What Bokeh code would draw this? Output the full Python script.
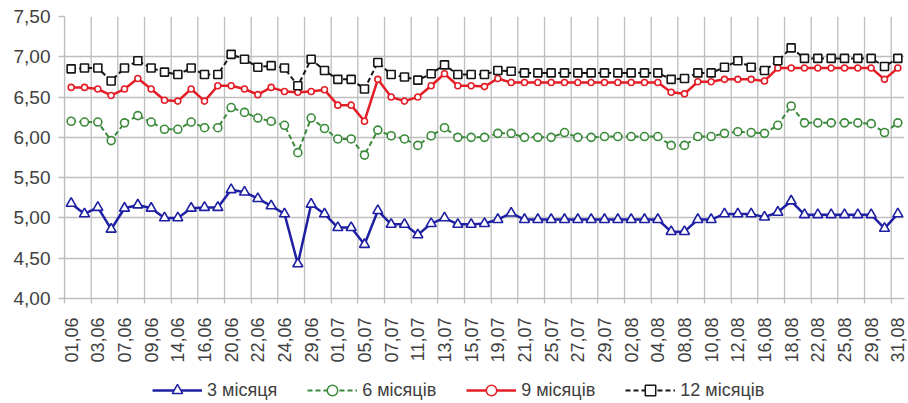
import math
from bokeh.plotting import figure
from bokeh.layouts import column
from bokeh.models import (Range1d, FixedTicker, CustomJSTickFormatter, Legend, LegendItem,
                          ColumnDataSource)
from bokeh.embed import file_html
from bokeh.resources import INLINE

dates = ["01,06", "02,06", "03,06", "06,06", "07,06", "08,06", "09,06", "10,06",
         "14,06", "15,06", "16,06", "17,06", "20,06", "21,06", "22,06", "23,06",
         "24,06", "27,06", "29,06", "30,06", "01,07", "04,07", "05,07", "06,07",
         "07,07", "08,07", "11,07", "12,07", "13,07", "14,07", "15,07", "18,07",
         "19,07", "20,07", "21,07", "22,07", "25,07", "26,07", "27,07", "28,07",
         "29,07", "01,08", "02,08", "03,08", "04,08", "05,08", "08,08", "09,08",
         "10,08", "11,08", "12,08", "15,08", "16,08", "17,08", "18,08", "19,08",
         "22,08", "23,08", "25,08", "26,08", "29,08", "30,08", "31,08"]

m3 = [5.18, 5.05, 5.13, 4.86, 5.12, 5.16, 5.12, 5.00, 5.00, 5.12, 5.13, 5.13,
      5.35, 5.32, 5.24, 5.15, 5.05, 4.43, 5.17, 5.05, 4.88, 4.88, 4.67, 5.09,
      4.92, 4.92, 4.79, 4.93, 5.00, 4.92, 4.92, 4.93, 4.98, 5.06, 4.98, 4.98,
      4.98, 4.98, 4.98, 4.98, 4.98, 4.98, 4.98, 4.98, 4.98, 4.83, 4.83, 4.98,
      4.98, 5.05, 5.05, 5.05, 5.01, 5.07, 5.21, 5.04, 5.04, 5.04, 5.04, 5.04,
      5.04, 4.87, 5.05]

m6 = [6.20, 6.19, 6.19, 5.96, 6.18, 6.27, 6.19, 6.10, 6.10, 6.19, 6.12, 6.12,
      6.37, 6.31, 6.24, 6.20, 6.15, 5.81, 6.24, 6.11, 5.98, 5.98, 5.78, 6.09,
      6.02, 5.98, 5.90, 6.02, 6.12, 6.00, 6.00, 6.00, 6.05, 6.05, 6.00, 6.00,
      6.00, 6.06, 6.00, 6.00, 6.01, 6.01, 6.01, 6.01, 6.01, 5.90, 5.90, 6.01,
      6.01, 6.05, 6.07, 6.06, 6.05, 6.15, 6.39, 6.18, 6.18, 6.18, 6.18, 6.18,
      6.17, 6.06, 6.18]

m9 = [6.62, 6.62, 6.60, 6.52, 6.60, 6.73, 6.60, 6.46, 6.45, 6.60, 6.45, 6.64,
      6.64, 6.60, 6.53, 6.62, 6.57, 6.56, 6.57, 6.59, 6.40, 6.40, 6.20, 6.72,
      6.50, 6.45, 6.50, 6.64, 6.79, 6.64, 6.64, 6.63, 6.73, 6.68, 6.68, 6.68,
      6.68, 6.68, 6.68, 6.68, 6.68, 6.68, 6.68, 6.68, 6.68, 6.56, 6.54, 6.69,
      6.69, 6.72, 6.72, 6.72, 6.70, 6.86, 6.86, 6.86, 6.86, 6.86, 6.86, 6.86,
      6.86, 6.72, 6.86]

m12 = [6.85, 6.86, 6.86, 6.70, 6.86, 6.95, 6.86, 6.81, 6.78, 6.86, 6.78, 6.78,
       7.03, 6.97, 6.87, 6.89, 6.86, 6.64, 6.97, 6.83, 6.72, 6.72, 6.60, 6.93,
       6.78, 6.75, 6.71, 6.79, 6.90, 6.78, 6.78, 6.78, 6.83, 6.82, 6.80, 6.80,
       6.80, 6.80, 6.80, 6.80, 6.80, 6.80, 6.80, 6.80, 6.80, 6.72, 6.73, 6.80,
       6.80, 6.87, 6.95, 6.87, 6.83, 6.95, 7.11, 6.98, 6.98, 6.98, 6.98, 6.98,
       6.98, 6.88, 6.98]

series_names = ["3 місяця", "6 місяців", "9 місяців", "12 місяців"]
y_ticks = [4.0, 4.5, 5.0, 5.5, 6.0, 6.5, 7.0, 7.5]

FONT = "Liberation Sans"
GRID = "#BEBEBE"
TXT = "#404040"

n = len(dates)
xs = list(range(n))
bounds = [k - 0.5 for k in range(0, n, 2)]

p = figure(width=908, height=368, output_backend="svg", toolbar_location=None,
           x_range=Range1d(-0.5, n - 0.5), y_range=Range1d(4.0, 7.5),
           min_border_left=64, min_border_right=4, min_border_top=16,
           min_border_bottom=70)
p.outline_line_color = None
p.background_fill_color = "white"
p.border_fill_color = "white"

# x axis: labels at every other category, short ticks at category boundaries
p.xaxis.ticker = FixedTicker(ticks=list(range(0, n, 2)), minor_ticks=bounds)
p.xaxis.formatter = CustomJSTickFormatter(args=dict(labels=dates),
                                          code="return labels[Math.round(tick)];")
p.xaxis.major_label_orientation = math.pi / 2
p.xaxis.major_tick_line_color = None
p.xaxis.major_tick_out = 0
p.xaxis.major_tick_in = 0
p.xaxis.minor_tick_line_color = GRID
p.xaxis.minor_tick_line_width = 1.3
p.xaxis.minor_tick_out = 5
p.xaxis.minor_tick_in = 0
p.xaxis.axis_line_color = GRID
p.xaxis.axis_line_width = 1.3
p.xaxis.major_label_standoff = 14
p.xaxis.major_label_text_font = FONT
p.xaxis.major_label_text_font_size = "18px"
p.xaxis.major_label_text_color = TXT

p.yaxis.ticker = FixedTicker(ticks=y_ticks)
p.yaxis.formatter = CustomJSTickFormatter(code="return tick.toFixed(2).replace('.', ',');")
p.yaxis.major_tick_out = 6
p.yaxis.major_tick_in = 0
p.yaxis.minor_tick_line_color = None
p.yaxis.major_tick_line_color = GRID
p.yaxis.major_tick_line_width = 1.3
p.yaxis.axis_line_color = GRID
p.yaxis.axis_line_width = 1.3
p.yaxis.major_label_standoff = 8
p.yaxis.major_label_text_font = FONT
p.yaxis.major_label_text_font_size = "19px"
p.yaxis.major_label_text_color = TXT

# vertical grid lines at category boundaries, kept inside the plot area
p.xgrid.visible = False
p.segment(x0=bounds, y0=[y_ticks[0]] * len(bounds), x1=bounds,
          y1=[y_ticks[-1]] * len(bounds), line_color=GRID, line_width=1.3,
          level="underlay")
p.ygrid.ticker = FixedTicker(ticks=y_ticks)
p.ygrid.grid_line_color = GRID
p.ygrid.grid_line_width = 1.3

src = ColumnDataSource(dict(x=xs, m3=m3, m6=m6, m9=m9, m12=m12))

styles = [
    ("m3", "#1F1FA3", 2.5, "solid", "triangle", 10),
    ("m6", "#3A8A3A", 2.0, "5 3", "circle", 8),
    ("m9", "#E41E26", 2.5, "solid", "circle", 6),
    ("m12", "#151515", 2.0, "5 3", "square", 8),
]

for col, color, lw, dash, marker, size in styles:
    p.line("x", col, source=src, line_color=color, line_width=lw, line_dash=dash)
    p.scatter("x", col, source=src, marker=marker, size=size,
              line_color=color, line_width=1.6, fill_color="white")

# legend strip below the chart (its renderers use the same data, out of view)
pl = figure(width=908, height=35, output_backend="svg", toolbar_location=None,
            x_axis_location=None, y_axis_location=None,
            x_range=Range1d(-1000, -999), y_range=Range1d(-1000, -999),
            min_border_left=0, min_border_right=0, min_border_top=0,
            min_border_bottom=0)
pl.outline_line_color = None
pl.grid.visible = False
pl.border_fill_color = "white"
pl.background_fill_color = "white"

items = []
for (col, color, lw, dash, marker, size), name in zip(styles, series_names):
    ln = pl.line("x", col, source=src, line_color=color, line_width=lw, line_dash=dash)
    sc = pl.scatter("x", col, source=src, marker=marker, size=size - 1,
                    line_color=color, line_width=1.5, fill_color="white")
    items.append(LegendItem(label=name, renderers=[ln, sc]))

legend = Legend(items=items, orientation="horizontal", location=(88, 0),
                glyph_width=50, glyph_height=26, label_height=26,
                label_standoff=5, spacing=30,
                padding=0, margin=0, border_line_color=None,
                background_fill_alpha=0,
                label_text_font=FONT, label_text_font_size="18px",
                label_text_color=TXT)
pl.add_layout(legend, "center")

layout = column(p, pl, spacing=0)
open("out.html", "w").write(file_html(layout, INLINE))
